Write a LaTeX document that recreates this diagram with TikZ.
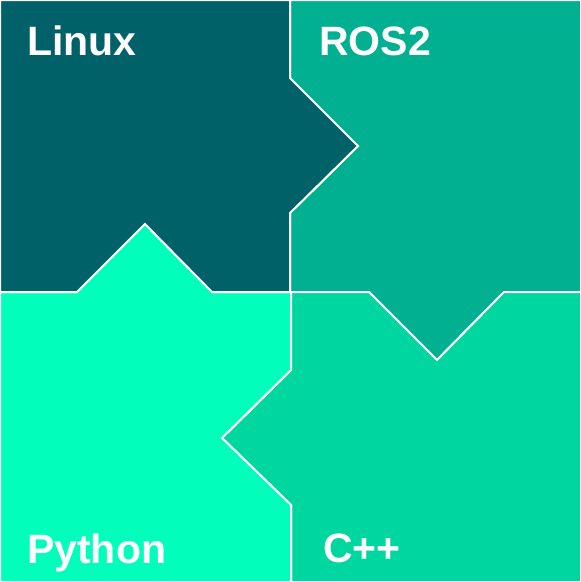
\documentclass[tikz,border=0pt]{standalone}
\usepackage{fontspec}
\setsansfont{Liberation Sans}
\definecolor{linuxc}{RGB}{0,98,104}
\definecolor{rosc}{RGB}{0,176,144}
\definecolor{pyc}{RGB}{0,255,187}
\definecolor{cppc}{RGB}{0,214,160}
\tikzset{piece/.style={draw=white, line width=2pt, line join=miter},
	label/.style={text=white, font=\sffamily\bfseries\fontsize{41}{41}\selectfont, inner sep=0pt, anchor=base west}}
\begin{document}
\begin{tikzpicture}[x=1pt, y=-1pt]
		\useasboundingbox (0,0) rectangle (581,582);
		\draw[piece, fill=rosc](290,0)--(581,0)--(581,292)--(504,292)--(437,360)--(369,292)--(290,292)--(290,213)--(358,146)--(290,78)--cycle;
		\draw[piece, fill=cppc](290,292)--(369,292)--(437,360)--(504,292)--(581,292)--(581,582)--(291,582)--(291,505)--(222,438)--(291,370)--cycle;
		\draw[piece, fill=pyc](0,292)--(77,292)--(145,224)--(212,292)--(291,292)--(291,370)--(222,438)--(291,505)--(291,582)--(0,582)--cycle;
		\draw[piece, fill=linuxc](0,0)--(290,0)--(290,78)--(358,146)--(290,213)--(290,292)--(212,292)--(145,224)--(77,292)--(0,292)--cycle;
		\node[label] (linux) at (27,55) {Linux};
		\node[label] (ros) at (319,55) {ROS2};
		\node[label] (python) at (27,563) {Python};
		\node[label] (cpp) at (323,562) {C++};
	\end{tikzpicture}
\end{document}
